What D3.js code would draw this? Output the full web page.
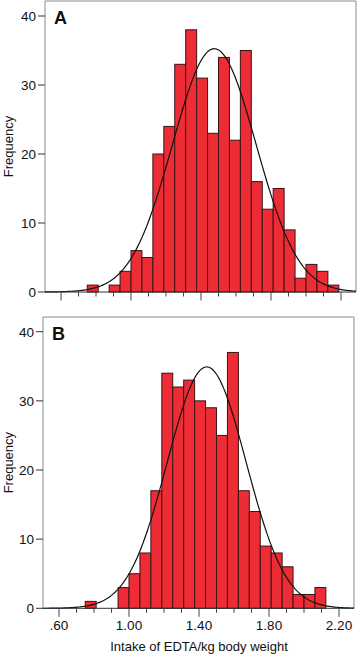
<!DOCTYPE html>
<html>
<head>
<meta charset="utf-8">
<script src="https://cdn.jsdelivr.net/npm/d3@7"></script>
<style>
  body { margin: 0; background: #fff; }
  svg { display: block; font-family: Arial, "Liberation Sans", sans-serif; }
</style>
</head>
<body>
<div id="chart"></div>
<script>
// histogram bins (EDTA intake per kg body weight), bin width 0.0625 starting at 0.75
const BIN_START = 0.75;
const BIN_WIDTH = 0.0625;

const countsA = [1, 0, 1, 3, 6, 5, 20, 24, 33, 38, 31, 23, 34, 22, 35, 16, 12, 15, 9, 2, 4, 3, 1];
const countsB = [1, 0, 0, 3, 5, 8, 17, 34, 32, 33, 30, 29, 25, 37, 17, 14, 9, 8, 6, 2, 2, 3];

// fitted normal curve parameters
const normalA = { mean: 1.476, sd: 0.239 };
const normalB = { mean: 1.444, sd: 0.225 };

const xTickLabels = [".60", "1.00", "1.40", "1.80", "2.20"];
const xMajor = [0.6, 1.0, 1.4, 1.8, 2.2];
const yTicks = [0, 10, 20, 30, 40];

const width = 358, height = 656;

const svg = d3.select("#chart").append("svg")
  .attr("width", width)
  .attr("height", height);

const panels = [
  { label: "A", counts: countsA, fit: normalA, left: 45, right: 356, top: 1,
    x0: 61, x1: 341, yBase: 292, yTop: 16, showLabels: false },
  { label: "B", counts: countsB, fit: normalB, left: 43, right: 354, top: 317,
    x0: 59, x1: 339, yBase: 608.3, yTop: 331.7, showLabels: true }
];

panels.forEach(p => {
  const g = svg.append("g");

  const x = d3.scaleLinear().domain([0.6, 2.2]).range([p.x0, p.x1]);
  const y = d3.scaleLinear().domain([0, 40]).range([p.yBase, p.yTop]);

  // frame (left, top, right)
  g.append("path")
    .attr("d", `M${p.left},${p.yBase}V${p.top}H${p.right}V${p.yBase}`)
    .attr("fill", "none")
    .attr("stroke", "#8a8a8a")
    .attr("stroke-width", 1);

  // bars
  const bins = p.counts.map((c, i) => ({
    x0: BIN_START + i * BIN_WIDTH,
    x1: BIN_START + (i + 1) * BIN_WIDTH,
    count: c
  })).filter(d => d.count > 0);

  g.selectAll("rect.bar")
    .data(bins)
    .enter()
    .append("rect")
    .attr("class", "bar")
    .attr("x", d => x(d.x0))
    .attr("y", d => y(d.count))
    .attr("width", d => x(d.x1) - x(d.x0))
    .attr("height", d => y(0) - y(d.count))
    .attr("fill", "#ee2c36")
    .attr("stroke", "#3a1414")
    .attr("stroke-width", 1);

  // normal curve
  const n = d3.sum(p.counts);
  const peak = n * BIN_WIDTH / (p.fit.sd * Math.sqrt(2 * Math.PI));
  const xs = d3.range(0, 301).map(i => x.invert(p.left + (p.right - p.left) * i / 300));
  const line = d3.line()
    .x(v => x(v))
    .y(v => y(peak * Math.exp(-Math.pow(v - p.fit.mean, 2) / (2 * p.fit.sd * p.fit.sd))));

  g.append("path")
    .datum(xs)
    .attr("fill", "none")
    .attr("stroke", "#111")
    .attr("stroke-width", 1.2)
    .attr("d", line);

  // x axis line
  g.append("line")
    .attr("x1", p.left).attr("x2", p.right)
    .attr("y1", p.yBase).attr("y2", p.yBase)
    .attr("stroke", "#333")
    .attr("stroke-width", 1);

  // x ticks every 0.1, long ones at labels
  const minor = d3.range(6, 23).map(v => v / 10);
  g.selectAll("line.xtick")
    .data(minor)
    .enter()
    .append("line")
    .attr("class", "xtick")
    .attr("x1", d => x(d)).attr("x2", d => x(d))
    .attr("y1", p.yBase)
    .attr("y2", d => p.yBase + (xMajor.some(m => Math.abs(m - d) < 1e-6) ? 8.5 : 4.5))
    .attr("stroke", "#444")
    .attr("stroke-width", 1);

  if (p.showLabels) {
    g.selectAll("text.xlab")
      .data(xMajor)
      .enter()
      .append("text")
      .attr("class", "xlab")
      .attr("x", d => x(d))
      .attr("y", p.yBase + 22)
      .attr("text-anchor", "middle")
      .attr("font-size", "13.5px")
      .attr("fill", "#111")
      .text((d, i) => xTickLabels[i]);

    g.append("text")
      .attr("x", 199)
      .attr("y", 651)
      .attr("text-anchor", "middle")
      .attr("font-size", "13px")
      .attr("fill", "#111")
      .text("Intake of EDTA/kg body weight");
  }

  // y ticks
  g.selectAll("line.ytick")
    .data(yTicks)
    .enter()
    .append("line")
    .attr("class", "ytick")
    .attr("x1", p.left - 7).attr("x2", p.left)
    .attr("y1", d => y(d)).attr("y2", d => y(d))
    .attr("stroke", "#333");

  g.selectAll("text.ylab")
    .data(yTicks)
    .enter()
    .append("text")
    .attr("class", "ylab")
    .attr("x", p.left - 9)
    .attr("y", d => y(d))
    .attr("dy", "0.36em")
    .attr("text-anchor", "end")
    .attr("font-size", "13.5px")
    .attr("fill", "#111")
    .text(d => d);

  // y title
  const yMid = (p.yBase + p.top) / 2;
  g.append("text")
    .attr("transform", `translate(12.5,${yMid}) rotate(-90)`)
    .attr("text-anchor", "middle")
    .attr("font-size", "13px")
    .attr("fill", "#111")
    .text("Frequency");

  // panel letter
  g.append("text")
    .attr("x", p.left + 9)
    .attr("y", p.top + 23)
    .attr("font-size", "18px")
    .attr("font-weight", "bold")
    .attr("fill", "#111")
    .text(p.label);
});
</script>
</body>
</html>
